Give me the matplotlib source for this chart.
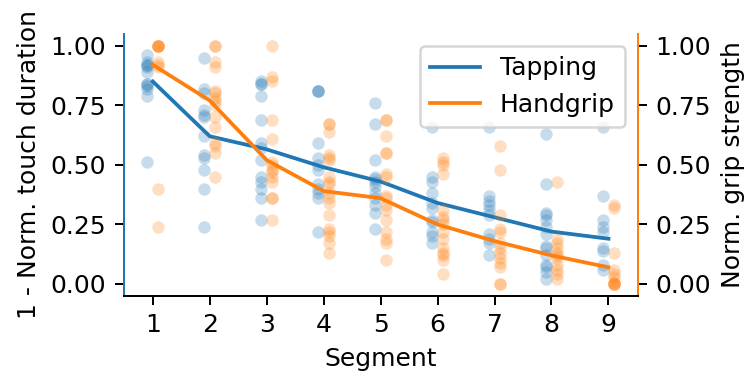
import matplotlib
matplotlib.use("Agg")
import matplotlib.pyplot as plt
import numpy as np

segments = [1, 2, 3, 4, 5, 6, 7, 8, 9]

# per-participant values for each segment
tap_pts = [
    [0.96, 0.93, 0.92, 0.92, 0.91, 0.89, 0.84, 0.84, 0.83, 0.82, 0.79, 0.51],
    [0.95, 0.82, 0.80, 0.73, 0.71, 0.70, 0.62, 0.54, 0.53, 0.48, 0.40, 0.24],
    [0.85, 0.84, 0.84, 0.79, 0.69, 0.59, 0.57, 0.52, 0.45, 0.43, 0.40, 0.36, 0.27],
    [0.81, 0.81, 0.81, 0.59, 0.53, 0.50, 0.48, 0.42, 0.40, 0.38, 0.36, 0.22],
    [0.76, 0.67, 0.52, 0.45, 0.44, 0.43, 0.41, 0.38, 0.36, 0.33, 0.30, 0.23],
    [0.66, 0.45, 0.43, 0.38, 0.34, 0.32, 0.27, 0.26, 0.22, 0.20, 0.17],
    [0.66, 0.37, 0.35, 0.33, 0.31, 0.29, 0.21, 0.19, 0.17, 0.12],
    [0.63, 0.42, 0.30, 0.29, 0.27, 0.24, 0.21, 0.16, 0.15, 0.12, 0.08, 0.07, 0.05, 0.02],
    [0.66, 0.37, 0.27, 0.24, 0.22, 0.15, 0.14, 0.08, 0.06],
]
grip_pts = [
    [1.0, 1.0, 1.0, 1.0, 1.0, 0.93, 0.92, 0.91, 0.40, 0.24],
    [1.0, 1.0, 0.93, 0.91, 0.81, 0.80, 0.78, 0.77, 0.75, 0.70, 0.66, 0.59, 0.58, 0.55, 0.45],
    [1.0, 0.87, 0.85, 0.69, 0.61, 0.51, 0.50, 0.48, 0.47, 0.45, 0.43, 0.36, 0.36, 0.27],
    [0.67, 0.67, 0.64, 0.54, 0.53, 0.52, 0.45, 0.43, 0.42, 0.38, 0.36, 0.34, 0.29, 0.23, 0.22, 0.20, 0.17, 0.13],
    [0.69, 0.69, 0.62, 0.55, 0.55, 0.46, 0.45, 0.37, 0.36, 0.33, 0.31, 0.27, 0.22, 0.19, 0.17, 0.10],
    [0.53, 0.51, 0.50, 0.46, 0.31, 0.28, 0.27, 0.25, 0.22, 0.19, 0.15, 0.13, 0.12, 0.10, 0.04],
    [0.58, 0.48, 0.29, 0.23, 0.22, 0.17, 0.15, 0.13, 0.11, 0.09, 0.07, 0.0, 0.0],
    [0.43, 0.19, 0.17, 0.15, 0.13, 0.12, 0.11, 0.08, 0.06, 0.04, 0.02],
    [0.33, 0.32, 0.13, 0.06, 0.04, 0.03, 0.01, 0.0, 0.0, 0.0, 0.0],
]

tap_mean = [0.85, 0.62, 0.565, 0.49, 0.43, 0.34, 0.28, 0.22, 0.19]
grip_mean = [0.92, 0.77, 0.52, 0.39, 0.36, 0.25, 0.18, 0.12, 0.07]

fig, ax1 = plt.subplots(figsize=(750 / 180, 376 / 180), dpi=180)
ax2 = ax1.twinx()

for s, pts in zip(segments, tap_pts):
    ax1.scatter(np.full(len(pts), s - 0.1), pts, s=25, color="C0", alpha=0.25, linewidths=0)
for s, pts in zip(segments, grip_pts):
    ax2.scatter(np.full(len(pts), s + 0.1), pts, s=25, color="C1", alpha=0.25, linewidths=0)

l1, = ax1.plot(segments, tap_mean, color="C0", lw=1.5, label="Tapping")
l2, = ax2.plot(segments, grip_mean, color="C1", lw=1.5, label="Handgrip")

ax1.set_ylim(-0.05, 1.05)
ax2.set_ylim(-0.05, 1.05)
ax1.set_xticks(segments)
ax1.set_yticks([0, 0.25, 0.5, 0.75, 1.0])
ax2.set_yticks([0, 0.25, 0.5, 0.75, 1.0])

ax1.set_xlabel("Segment")
ax1.set_ylabel("1 - Norm. touch duration")
ax2.set_ylabel("Norm. grip strength")

for ax in (ax1, ax2):
    ax.spines["top"].set_visible(False)
ax1.spines["right"].set_visible(False)
ax2.spines["left"].set_color("C0")
ax1.spines["left"].set_color("C0")
ax2.spines["right"].set_color("C1")

ax2.legend(handles=[l1, l2], loc="upper right")

fig.subplots_adjust(left=0.165, right=0.85, bottom=0.213, top=0.91)
fig.savefig("out.png")
